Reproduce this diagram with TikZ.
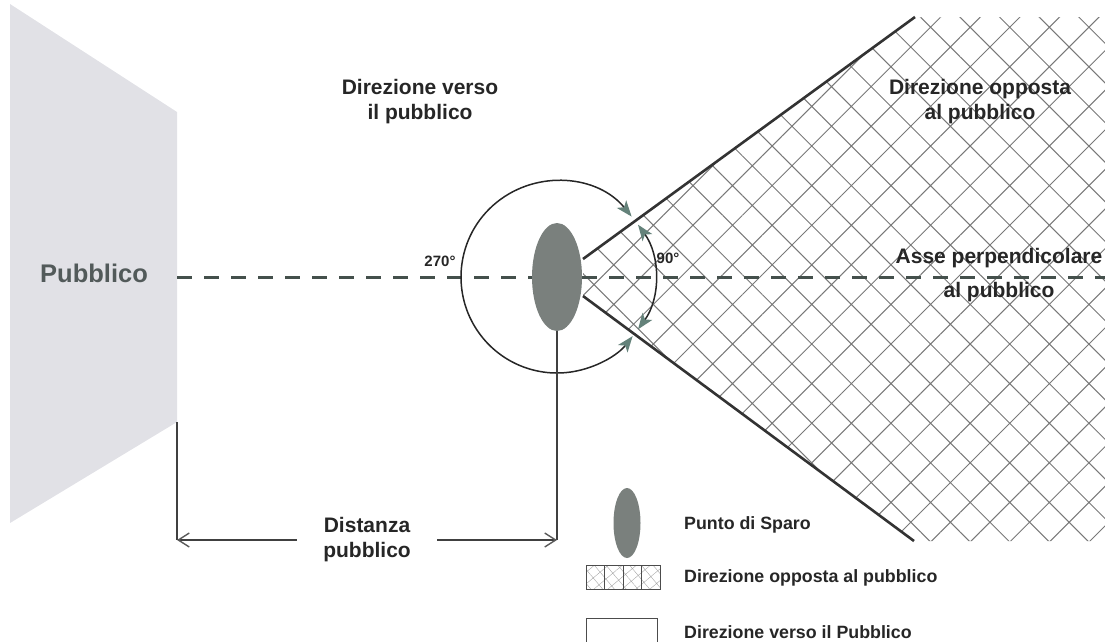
\documentclass[tikz,border=0pt]{standalone}
\usepackage{fontspec}
\setmainfont{Liberation Sans}
\usepackage{tikz}
\usetikzlibrary{shapes.geometric,arrows.meta,patterns.meta}

\definecolor{audfill}{RGB}{225,225,230}
\definecolor{audtext}{RGB}{82,90,90}
\definecolor{sparofill}{RGB}{122,128,125}
\definecolor{axisc}{RGB}{68,80,76}
\definecolor{tipc}{RGB}{100,130,122}
\definecolor{hatchc}{RGB}{120,120,120}
\definecolor{labc}{RGB}{38,38,38}

\begin{document}
\begin{tikzpicture}[x=1pt,y=-1pt,
    lbl/.style={font=\fontsize{21}{25}\selectfont\bfseries, text=labc, align=center, inner sep=0pt},
    leglbl/.style={font=\fontsize{17.8}{21}\selectfont\bfseries, text=labc, anchor=west, inner sep=0pt},
    anglbl/.style={font=\fontsize{15}{18}\selectfont\bfseries, text=labc, inner sep=0pt},
    shot/.style={ellipse, fill=sparofill, draw=none, inner sep=0pt},
    hatched/.style={pattern={Hatch[angle=45,distance=28pt,line width=1pt]}, pattern color=hatchc},
    conelim/.style={draw=black!80, line width=2.6pt},
    dimline/.style={draw=black!75, line width=1.2pt},
    dimarrow/.style={dimline, -{Straight Barb[length=11pt,width=14pt,line width=1.4pt,color=black!65]}},
    turn/.style={draw=black!85, line width=1.5pt,
      {Stealth[length=16pt,width=12pt,inset=4pt,color=tipc]}-{Stealth[length=16pt,width=12pt,inset=4pt,color=tipc]}}]
  \useasboundingbox (0,0) rectangle (1105,641);

  % Audience wall
  \coordinate (audtl) at (10,4);
  \coordinate (audtr) at (177,112);
  \coordinate (audbr) at (177,422);
  \coordinate (audbl) at (10,523);
  \fill[audfill] (audtl) -- (audtr) -- (audbr) -- (audbl) -- cycle;
  \node[font=\fontsize{25.5}{30}\selectfont\bfseries, text=audtext] (pubblico) at (94,273) {Pubblico};

  % Zone away from the audience
  \coordinate (coneup) at (583,259);
  \coordinate (conetop) at (915,17);
  \coordinate (conelo) at (583,296);
  \coordinate (conebot) at (914,541);
  \fill[hatched] (coneup) -- (conetop) -- (1105,17) -- (1105,541) -- (conebot) -- (conelo) -- cycle;
  \draw[conelim] (coneup) -- (conetop) (conelo) -- (conebot);

  % Perpendicular axis
  \coordinate (audmid) at (177,277);
  \coordinate (axisend) at (1105,277);
  \draw[axisc, line width=3pt, dash pattern=on 15pt off 12pt] (audmid) -- (axisend);

  % Shooting point and angles
  \node[shot, minimum width=50pt, minimum height=108pt] (sparo) at (557,277) {};
  \draw[turn] (sparo.center) ++(-39:96) arc[start angle=-39, end angle=-322, radius=96];
  \coordinate (smallc) at (566,277);
  \draw[turn] (smallc) ++(-36:89) arc[start angle=-36, end angle=36, radius=89];
  \node[anglbl] (ang270) at (440,261) {270°};
  \node[anglbl] (ang90) at (668,258) {90°};

  % Labels
  \node[lbl] (towardlbl) at (420,102) {Direzione verso\\il pubblico};
  \node[lbl] (awaylbl) at (980,102) {Direzione opposta\\al pubblico};
  \node[lbl] (axislbl) at (999,275) {Asse perpendicolare\\[9pt]al pubblico};

  % Distance to the audience
  \coordinate (audfoot) at (177,540);
  \coordinate (sparofoot) at (557,540);
  \draw[dimline] (audbr) -- (audfoot) (sparo.south) -- (sparofoot);
  \node[lbl, minimum width=140pt] (dist) at (367,540) {Distanza\\pubblico};
  \draw[dimarrow] (dist.west) -- (audfoot);
  \draw[dimarrow] (dist.east) -- (sparofoot);

  % Legend
  \node[shot, minimum width=27pt, minimum height=70pt] (legsparo) at (627,523) {};
  \node[leglbl] (leg1) at (684,525) {Punto di Sparo};
  \draw[black!70, line width=1pt, pattern={Hatch[angle=40,distance=9pt,line width=0.4pt]}, pattern color=black!35]
    (586,565) rectangle (660,589) (604.5,565) -- (604.5,589) (623,565) -- (623,589) (641.5,565) -- (641.5,589);
  \node[leglbl] (leg2) at (684,578) {Direzione opposta al pubblico};
  \draw[black!70, line width=1pt] (586,618) rectangle (657,648);
  \node[leglbl] (leg3) at (684,632) {Direzione verso il Pubblico};
\end{tikzpicture}
\end{document}
